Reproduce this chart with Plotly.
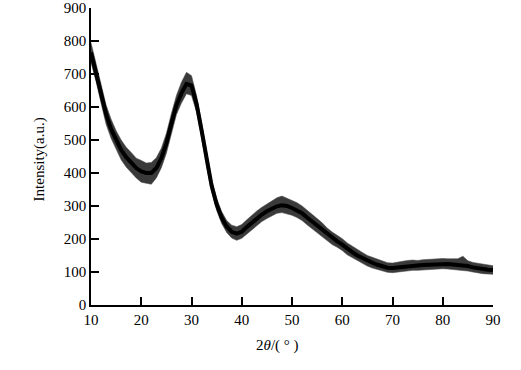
import plotly.graph_objects as go

# 2-theta positions (degrees)
two_theta = list(range(10, 91))

# Mid-line of the noisy trace
center = [765, 705, 640, 578, 533, 500, 470, 448, 430, 415,
          405, 400, 400, 415, 445, 490, 550, 605, 642, 670,
          665, 610, 530, 438, 362, 305, 265, 238, 222, 216,
          222, 236, 250, 263, 274, 284, 292, 299, 302, 300,
          294, 287, 278, 265, 253, 241, 228, 214, 202, 193,
          183, 170, 160, 150, 142, 134, 128, 122, 117, 113,
          112, 114, 117, 119, 120, 120, 121, 122, 124, 125,
          125, 124, 123, 122, 121, 118, 114, 111, 109, 107, 106]

# Upper and lower edges of the noise band
upper = [795, 735, 668, 606, 563, 528, 500, 478, 462, 445,
         438, 430, 432, 446, 475, 520, 580, 635, 675, 705,
         695, 635, 553, 460, 380, 323, 283, 256, 242, 237,
         244, 258, 272, 285, 296, 306, 316, 325, 330, 324,
         318, 310, 300, 288, 275, 262, 249, 233, 221, 211,
         201, 188, 178, 167, 159, 150, 144, 138, 132, 128,
         127, 130, 133, 135, 136, 135, 137, 138, 140, 141,
         141, 140, 139, 140, 148, 134, 129, 126, 124, 121, 119]
lower = [735, 678, 612, 548, 505, 470, 440, 418, 400, 385,
         372, 370, 366, 385, 416, 460, 520, 577, 612, 640,
         635, 585, 507, 418, 344, 287, 247, 220, 203, 196,
         202, 215, 229, 242, 253, 262, 270, 278, 280, 277,
         272, 265, 256, 243, 231, 220, 207, 195, 183, 175,
         165, 152, 143, 134, 126, 118, 112, 107, 102, 99,
         98, 100, 103, 104, 105, 105, 106, 107, 109, 110,
         110, 109, 108, 107, 106, 103, 100, 97, 95, 94, 93]

x_ticks = [10, 20, 30, 40, 50, 60, 70, 80, 90]
y_ticks = [0, 100, 200, 300, 400, 500, 600, 700, 800, 900]

FONT = "Liberation Serif"

fig = go.Figure()
fig.add_trace(go.Scatter(x=two_theta, y=lower, mode="lines",
                         line=dict(color="rgba(70,70,70,0.7)", width=0.8),
                         showlegend=False, hoverinfo="skip"))
fig.add_trace(go.Scatter(x=two_theta, y=upper, mode="lines",
                         line=dict(color="rgba(70,70,70,0.7)", width=0.8),
                         fill="tonexty", fillcolor="#3a3a3a",
                         showlegend=False, hoverinfo="skip"))
fig.add_trace(go.Scatter(x=two_theta, y=center, mode="lines",
                         line=dict(color="black", width=4),
                         showlegend=False, hoverinfo="skip"))

fig.update_layout(
    width=521, height=370,
    margin=dict(l=91, r=28, t=8, b=65),
    paper_bgcolor="white", plot_bgcolor="white",
    font=dict(family=FONT, size=15, color="black"),
    showlegend=False,
    xaxis=dict(range=[10, 90], tickvals=x_ticks, ticktext=[str(v) for v in x_ticks],
               showgrid=False, zeroline=False, showline=True, linecolor="black",
               linewidth=1.5, ticks="inside", ticklen=8, tickwidth=1.5,
               tickcolor="black", tickfont=dict(family=FONT, size=15),
               automargin=False),
    yaxis=dict(range=[0, 900], tickvals=y_ticks, ticktext=[str(v) for v in y_ticks],
               showgrid=False, zeroline=False, showline=True, linecolor="black",
               linewidth=1.5, ticks="inside", ticklen=8, tickwidth=1.5,
               tickcolor="black", tickfont=dict(family=FONT, size=15),
               automargin=False),
    annotations=[
        dict(text="Intensity(a.u.)", xref="paper", yref="paper",
             x=(40 - 91) / 401.7, y=0.49, textangle=-90, showarrow=False,
             font=dict(family=FONT, size=15), xanchor="center", yanchor="middle"),
        dict(text="2<i>θ</i>/( ° )", xref="paper", yref="paper",
             x=0.463, y=-0.136, showarrow=False,
             font=dict(family=FONT, size=15), xanchor="center", yanchor="middle"),
    ],
)

fig.write_html("out.html", config={"displayModeBar": False},
               post_script="document.body.style.margin='0';")
